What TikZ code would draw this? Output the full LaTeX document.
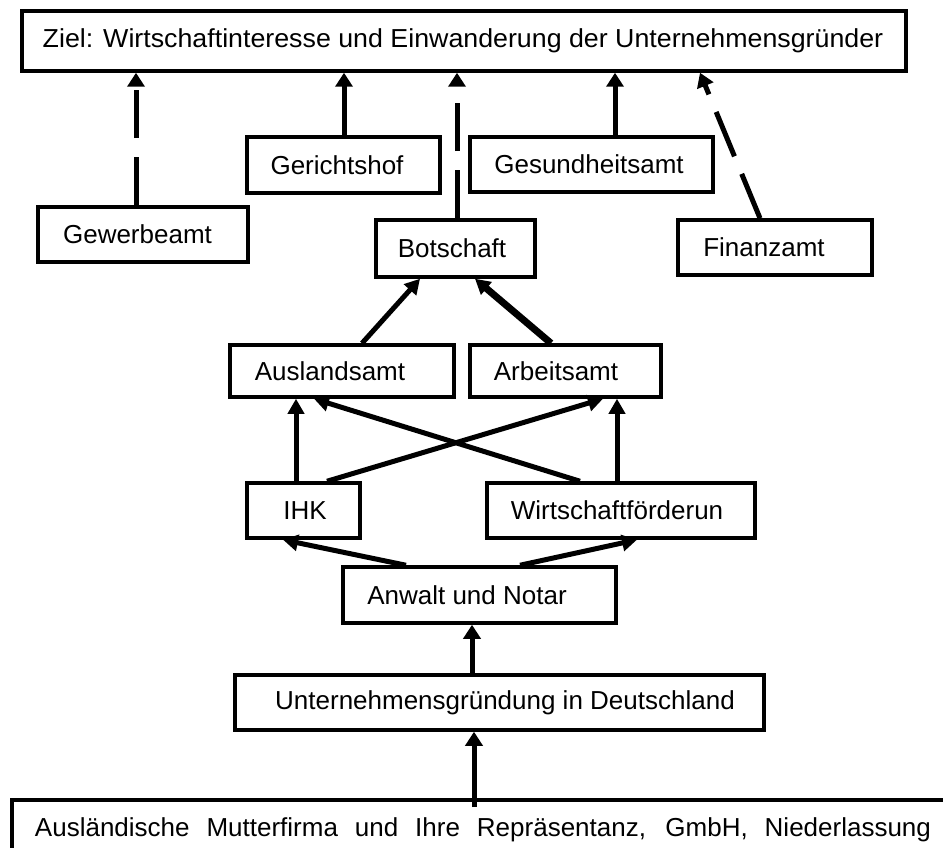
\documentclass[tikz,border=0pt]{standalone}
\usepackage{fontspec}
\setmainfont{Liberation Sans}
\usetikzlibrary{arrows.meta}
\newcommand\txs[2]{\hspace*{#1}#2\hspace*{-#1}}
\begin{document}
\begin{tikzpicture}[x=1pt,y=-1pt,
  box/.style={draw, line width=3.5pt, inner sep=0pt, font=\fontsize{26}{31}\selectfont},
  arr/.style={line width=5pt, -{Triangle[length=14pt,width=17pt]}},
  arrm/.style={line width=5pt, -{Triangle[length=15pt,width=16pt]}},
  dsh/.style={dash pattern=on 48pt off 19pt}]
\useasboundingbox (0,0) rectangle (943,848);
\fill[white] (0,0) rectangle (943,848);
\clip (0,0) rectangle (943,848);

% nodes
\node[box, minimum width=884pt, minimum height=60pt] (ziel) at (464,41)
  {\txs{-1pt}{\addfontfeature{FakeStretch=1.03}Ziel: Wirtschaftinteresse und Einwanderung der Unternehmensgründer}};
\node[box, minimum width=193pt, minimum height=56pt] (gericht) at (343.5,165) {\txs{-6.5pt}{Gerichtshof}};
\node[box, minimum width=243pt, minimum height=55pt] (gesund) at (591.5,164.5) {\txs{-2.5pt}{Gesundheitsamt}};
\node[box, minimum width=210pt, minimum height=55pt] (gewerbe) at (143,234.5) {\txs{-5.5pt}{Gewerbeamt}};
\node[box, minimum width=159pt, minimum height=57pt] (botschaft) at (455.5,248.5) {\txs{-3.5pt}{Botschaft}};
\node[box, minimum width=194pt, minimum height=55pt] (finanz) at (775,247.5) {\txs{-11pt}{Finanzamt}};
\node[box, minimum width=224pt, minimum height=52pt] (auslands) at (342,371) {\txs{-12pt}{Auslandsamt}};
\node[box, minimum width=191pt, minimum height=52pt] (arbeits) at (565.5,371) {\txs{-9.5pt}{Arbeitsamt}};
\node[box, minimum width=113pt, minimum height=55pt] (ihk) at (303.5,510.5) {\txs{1.5pt}{IHK}};
\node[box, minimum width=268pt, minimum height=55pt] (wirtschaft) at (621,510.5) {\txs{-4pt}{Wirtschaftförderun}};
\node[box, minimum width=273pt, minimum height=56pt] (anwalt) at (479.5,595) {\txs{-12.5pt}{Anwalt und Notar}};
\node[box, minimum width=529pt, minimum height=55pt] (unternehmen) at (499.5,702.5) {\txs{5.5pt}{Unternehmensgründung in Deutschland}};
\node[box, line width=4pt, anchor=north west, minimum height=60pt] (basis) at (10,798)
  {\hspace*{23pt}\makebox[896pt][s]{Ausländische Mutterfirma und Ihre Repräsentanz, GmbH, Niederlassung}\hspace*{60pt}};

% connectors to the goal
\coordinate (c1) at ([xshift=-7pt]gewerbe.north);
\draw[arr,dsh] (c1) -- (c1 |- ziel.south);
\coordinate (c2) at ([xshift=0.5pt]gericht.north);
\draw[arr] (c2) -- (c2 |- ziel.south);
\coordinate (c3) at ([xshift=1.5pt]botschaft.north);
\draw[arr,dsh] (c3) -- (c3 |- ziel.south);
\coordinate (c4) at ([xshift=23.5pt]gesund.north);
\draw[arr] (c4) -- (c4 |- ziel.south);
\draw[arr,dsh] ([xshift=-15pt]finanz.north) -- ([xshift=236pt]ziel.south);

% middle
\draw[arrm] ([xshift=20pt]auslands.north) -- ([xshift=-35.5pt]botschaft.south);
\draw[arrm, line width=7pt] ([xshift=-14.5pt]arbeits.north) -- ([xshift=19.5pt]botschaft.south);
\coordinate (c5) at ([xshift=-7.5pt]ihk.north);
\draw[arrm] (c5) -- (c5 |- auslands.south);
\draw[arrm] ([xshift=23.5pt]ihk.north) -- ([xshift=37.5pt]arbeits.south);
\draw[arrm] ([xshift=-41pt]wirtschaft.north) -- ([xshift=-28pt]auslands.south);
\coordinate (c6) at ([xshift=-4pt]wirtschaft.north);
\draw[arrm] (c6) -- (c6 |- arbeits.south);
\draw[arrm] ([xshift=-73.5pt]anwalt.north) -- ([xshift=-20.5pt]ihk.south);
\draw[arrm] ([xshift=40.5pt]anwalt.north) -- ([xshift=16pt]wirtschaft.south);

% lower chain
\coordinate (c7) at ([xshift=-27.5pt]unternehmen.north);
\draw[arr] (c7) -- (c7 |- anwalt.south);
\coordinate (c8) at ([xshift=-27.5pt,yshift=-9pt]basis.north);
\draw[arr] (c8) -- (c8 |- unternehmen.south);
\end{tikzpicture}
\end{document}
